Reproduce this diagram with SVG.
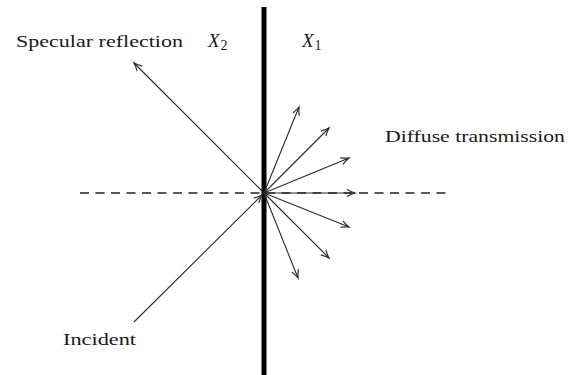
<svg xmlns="http://www.w3.org/2000/svg" width="568" height="375" viewBox="0 0 568 375">
  <style>
    .lbl { font-family: "Liberation Serif", "DejaVu Serif", serif; font-size: 17.5px; fill: #1a1a1a; }
    .math { font-family: "Liberation Serif", "DejaVu Serif", serif; font-size: 19px; font-style: italic; fill: #1a1a1a; }
    .sub { font-style: normal; font-size: 14px; }
    .ray { stroke: #2a2a2a; stroke-width: 1.1; fill: none; marker-end: url(#arr); }
  </style>
  <defs>
    <marker id="arr" viewBox="-10 -5 12 10" refX="0" refY="0" markerWidth="12" markerHeight="10" markerUnits="userSpaceOnUse" orient="auto">
      <path d="M-8,-3.5 Q-3,-0.8 0,0 Q-3,0.8 -8,3.5" fill="none" stroke="#2a2a2a" stroke-width="1.2"/>
    </marker>
  </defs>
  <rect width="568" height="375" fill="#fff"/>

  <g id="interface">
    <line x1="264" y1="7" x2="264" y2="375" stroke="#000" stroke-width="5"/>
  </g>

  <g id="connectors">
    <line x1="80" y1="193" x2="450" y2="193" stroke="#222" stroke-width="1.4" stroke-dasharray="9 6.5"/>
    <line class="ray" x1="134" y1="322" x2="262" y2="195"/>
    <line class="ray" x1="264" y1="193" x2="134" y2="63"/>
    <line class="ray" x1="264" y1="193" x2="299" y2="107"/>
    <line class="ray" x1="264" y1="193" x2="329" y2="128"/>
    <line class="ray" x1="264" y1="193" x2="349" y2="158"/>
    <line class="ray" x1="264" y1="193" x2="355" y2="193"/>
    <line class="ray" x1="264" y1="193" x2="349" y2="227"/>
    <line class="ray" x1="264" y1="193" x2="329" y2="258"/>
    <line class="ray" x1="264" y1="193" x2="298" y2="278"/>
  </g>

  <g id="label-specular">
    <text class="lbl" x="16" y="47" textLength="167" lengthAdjust="spacingAndGlyphs">Specular reflection</text>
  </g>
  <g id="label-x2">
    <text class="math" x="208" y="47">X<tspan class="sub" dx="1" dy="3">2</tspan></text>
  </g>
  <g id="label-x1">
    <text class="math" x="302" y="47">X<tspan class="sub" dx="1" dy="3">1</tspan></text>
  </g>
  <g id="label-diffuse">
    <text class="lbl" x="385" y="142" textLength="180" lengthAdjust="spacingAndGlyphs">Diffuse transmission</text>
  </g>
  <g id="label-incident">
    <text class="lbl" x="63" y="345" textLength="73" lengthAdjust="spacingAndGlyphs">Incident</text>
  </g>
</svg>
